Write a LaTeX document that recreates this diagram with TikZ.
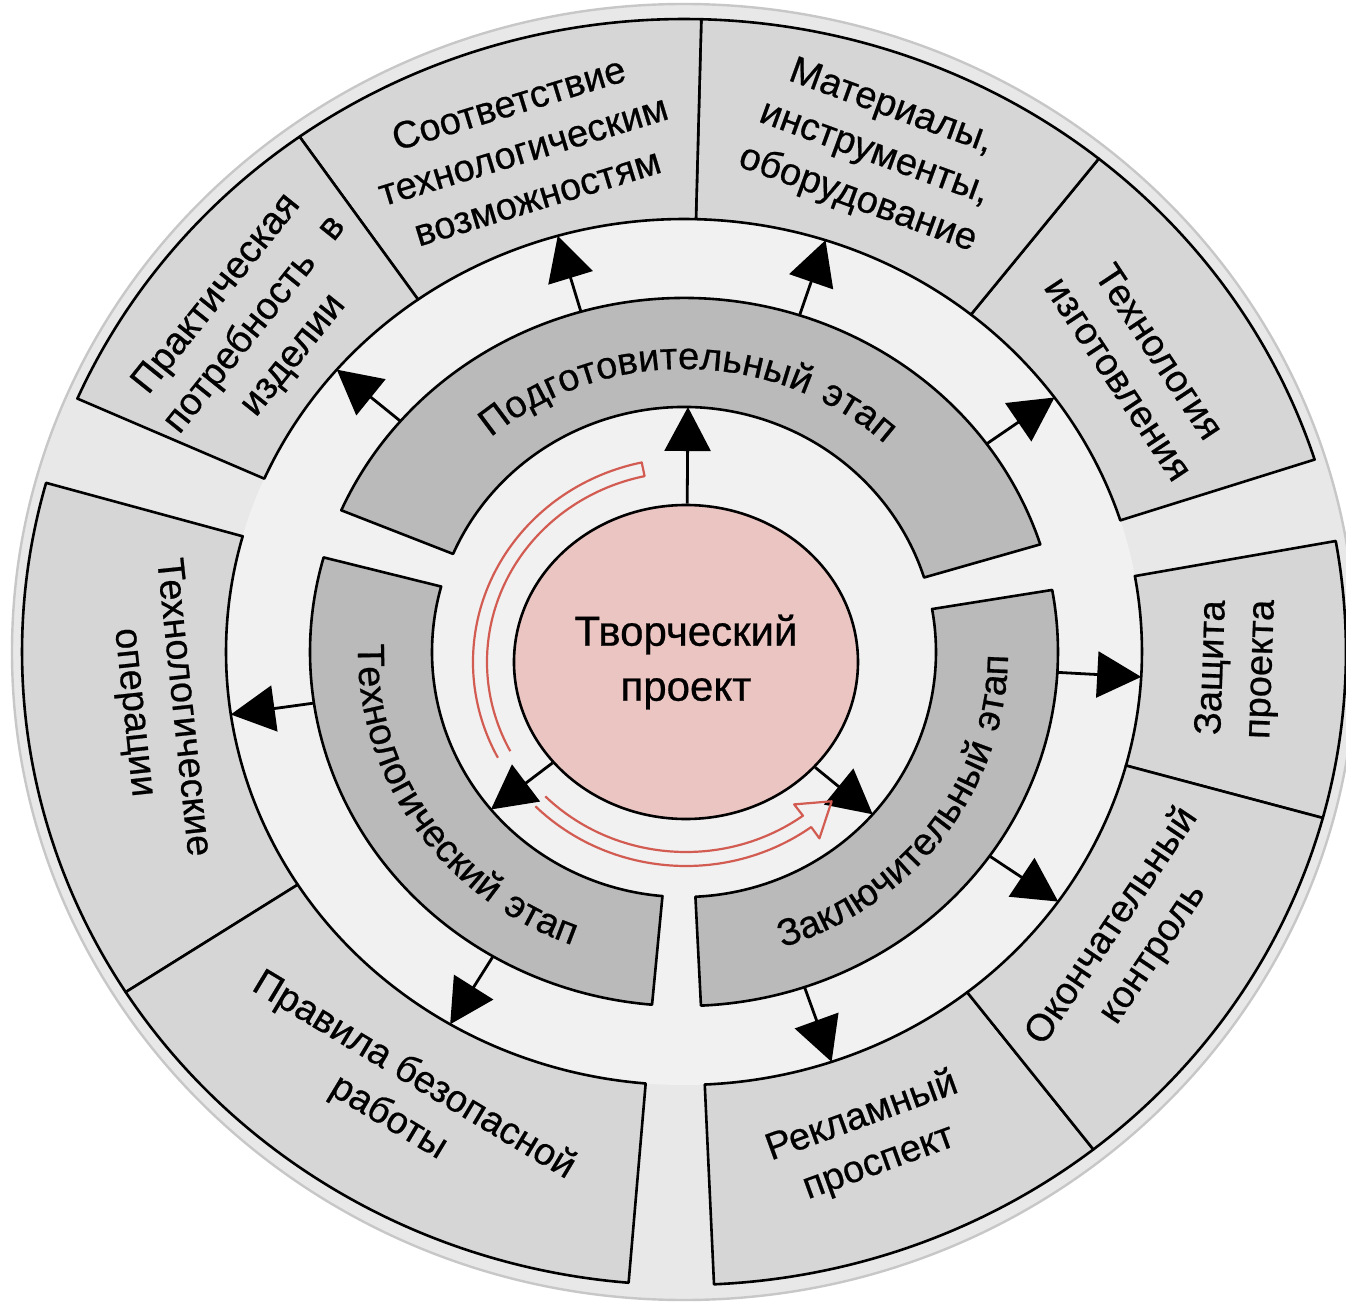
\documentclass[tikz,border=0pt]{standalone}
\usepackage{fontspec}
\setmainfont{Liberation Sans}[FakeBold=0.6]
\usetikzlibrary{arrows.meta,shapes.geometric,decorations.text}
\definecolor{discbg}{RGB}{232,232,232}
\definecolor{ringbg}{RGB}{241,241,241}
\definecolor{boxbg}{RGB}{214,214,214}
\definecolor{stagebg}{RGB}{186,186,186}
\definecolor{pinkbg}{RGB}{234,197,194}
\definecolor{redline}{RGB}{210,92,82}
\newcommand\boxfont{\fontsize{19}{24.5}\selectfont}
\newcommand\stagefont{\fontsize{19}{23}\selectfont}
\newcommand\centerfont{\fontsize{21}{27.5}\selectfont}
% annular sector: r_in, rx_in, a1, r_out, rx_out, a2
\newcommand\sectpath[6]{(#3:#2 and #1) -- (#3:#5 and #4) arc[start angle=#3, end angle=#6, x radius=#5, y radius=#4] -- (#6:#2 and #1) arc[start angle=#6, end angle=#3, x radius=#2, y radius=#1] -- cycle}
\tikzset{
  boxst/.style={fill=boxbg, draw=black, line width=1.3pt, line join=round},
  stagest/.style={fill=stagebg, draw=black, line width=1.3pt, line join=round},
  arr/.style={line width=1.4pt, -{Triangle[width=23pt,length=22pt]}},
  boxtxt/.style={align=center, font=\boxfont, inner sep=0pt},
  redst/.style={draw=redline, line width=1.1pt, line join=round},
  pinknode/.style={ellipse, fill=pinkbg, draw=black, line width=1.3pt, minimum width=172pt, minimum height=157pt, inner sep=0pt, align=center, font=\centerfont},
  discedge/.style={draw=black!22, line width=1.2pt}
}
\begin{document}
\begin{tikzpicture}[x=0.5pt,y=0.5pt]
\useasboundingbox (-684,-656) rectangle (662,652);
\fill[white] (-684,-656) rectangle (662,652);
\clip (-684,-656) rectangle (662,652);
% disc
\fill[discbg] (0,0) ellipse [x radius=672, y radius=648];
\draw[discedge] (0,0) ellipse [x radius=672, y radius=648];
\fill[ringbg] (0,0) ellipse [x radius=458, y radius=433];
% outer boxes
\draw[boxst] \sectpath{433}{458}{-15.2}{633}{662}{10.1};
\draw[boxst] \sectpath{433}{458}{17.7}{633}{662}{51.2};
\draw[boxst] \sectpath{433}{458}{51.2}{633}{662}{88.5};
\draw[boxst] \sectpath{433}{458}{88.5}{633}{662}{125.5};
\draw[boxst] \sectpath{433}{458}{125.5}{633}{662}{156.4};
\draw[boxst] \sectpath{433}{458}{164.5}{633}{662}{212.5};
\draw[boxst] \sectpath{433}{458}{212.5}{633}{662}{265.2};
\draw[boxst] \sectpath{433}{458}{272.6}{633}{662}{308.2};
\draw[boxst] \sectpath{433}{458}{308.2}{633}{662}{344.8};
% stages
\draw[stagest] \sectpath{245}{252}{17.7}{354}{374}{156.4};
\draw[stagest] \sectpath{245}{252}{164.5}{354}{374}{265.1};
\draw[stagest] \sectpath{245}{252}{272.6}{354}{374}{370.1};
% arrow end points
\coordinate (s1) at (139.3:374 and 354); \coordinate (e1) at (139.3:458 and 433);
\coordinate (s2) at (106:374 and 354);   \coordinate (e2) at (106:458 and 433);
\coordinate (s3) at (72:374 and 354);    \coordinate (e3) at (72:458 and 433);
\coordinate (s4) at (36:374 and 354);    \coordinate (e4) at (36:458 and 433);
\coordinate (s5) at (188.3:374 and 354); \coordinate (e5) at (188.3:458 and 433);
\coordinate (s6) at (239.3:374 and 354); \coordinate (e6) at (239.3:458 and 433);
\coordinate (s7) at (-3.3:374 and 354);  \coordinate (e7) at (-3.3:458 and 433);
\coordinate (s8) at (-35.2:374 and 354); \coordinate (e8) at (-35.2:458 and 433);
\coordinate (s9) at (-71.2:374 and 354); \coordinate (e9) at (-71.2:458 and 433);
\foreach \i in {1,...,9} {\draw[arr] (s\i) -- (e\i);}
% center
\node[pinknode] (proj) at (2,-10) {Творческий\\проект};
\coordinate (t1) at (89.1:252 and 245);
\coordinate (t2) at (220:252 and 245);
\coordinate (t3) at (-41.5:252 and 245);
\draw[arr] (proj) -- (t1);
\draw[arr] (proj) -- (t2);
\draw[arr] (proj) -- (t3);
% red double arrow
\begin{scope}[shift={(2,-10)}]
\draw[redst] (208:213 and 204) arc[start angle=208, end angle=102, x radius=213, y radius=204] -- (102:199 and 190) arc[start angle=102, end angle=208, x radius=199, y radius=190];
\draw[redst] (225:213 and 204) arc[start angle=225, end angle=306, x radius=213, y radius=204] -- (306:227 and 218) -- (315:206 and 197) -- (306:184 and 176) -- (306:199 and 190) arc[start angle=306, end angle=225, x radius=199, y radius=190];
\end{scope}
% stage texts
\path[decorate, decoration={text along path, text align=center, text={|\stagefont|Подготовительный{\hspace{7pt}}этап}}] (170:296 and 283) arc[start angle=170, end angle=8, x radius=296, y radius=283];
\path[decorate, decoration={text along path, text align=center, text={|\stagefont|Технологический{\hspace{7pt}}этап}}] (150:326 and 312) arc[start angle=150, end angle=277.4, x radius=326, y radius=312];
\path[decorate, decoration={text along path, text align=center, text={|\stagefont|Заключительный{\hspace{7pt}}этап}}] (-100:324 and 310) arc[start angle=-100, end angle=28.2, x radius=324, y radius=310];
% box texts
\node[boxtxt, rotate=17] (b1) at (107:551 and 525) {Соответствие\\технологическим\\возможностям};
\node[boxtxt, rotate=-20] (b2) at (70:556 and 530) {Материалы,\\инструменты,\\оборудование};
\node[boxtxt, rotate=-56.5] (b3) at (33.5:546 and 520) {Технология\\изготовления};
\node[boxtxt, rotate=51.3] (b4) at (141.3:549 and 523) {Практическая\\потребность\hspace{0.7em}в\\изделии};
\node[boxtxt, rotate=-84] (b5) at (186.6:530 and 505) {Технологические\\операции};
\node[boxtxt, rotate=-31] (b6) at (238.8:546 and 520) {Правила безопасной\\работы};
\node[boxtxt, rotate=20] (b7) at (-70:545 and 519) {Рекламный\\проспект};
\node[boxtxt, rotate=56] (b8) at (-34:541 and 515) {Окончательный\\контроль};
\node[boxtxt, rotate=88] (b9) at (-1.8:554 and 528) {Защита\\проекта};
\end{tikzpicture}
\end{document}
